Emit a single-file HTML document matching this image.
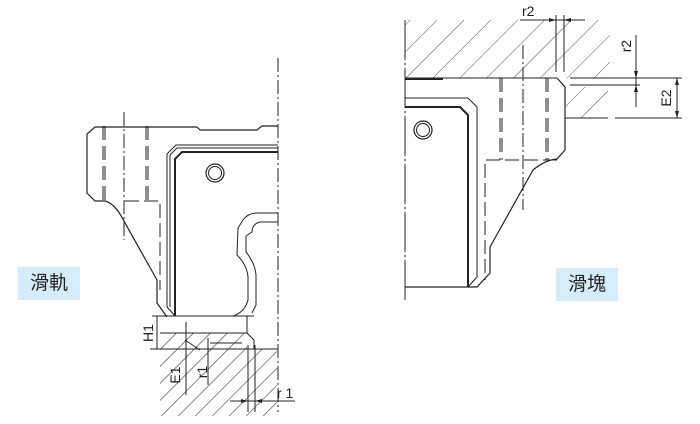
<!DOCTYPE html>
<html><head><meta charset="utf-8"><style>
html,body{margin:0;padding:0;background:#fff;}
.lbl{position:absolute;background:#d6ecfa;font-family:"Liberation Sans","Noto Sans CJK TC",sans-serif;font-size:19px;color:#222;text-align:center;line-height:33px;}
</style></head><body>
<div style="position:relative;width:700px;height:424px;overflow:hidden">
<svg width="700" height="424" viewBox="0 0 700 424" xmlns="http://www.w3.org/2000/svg" style="position:absolute;left:0;top:0" fill="none" stroke="#222" stroke-width="1">
<defs>
<pattern id="h" width="12" height="12" patternUnits="userSpaceOnUse" patternTransform="rotate(45)">
<line x1="0" y1="0" x2="0" y2="12" stroke="#222" stroke-width="1.1"/>
</pattern>
<pattern id="h2" width="19" height="19" patternUnits="userSpaceOnUse" patternTransform="rotate(45)">
<line x1="0" y1="0" x2="0" y2="19" stroke="#444" stroke-width="0.9"/>
</pattern>
</defs>
<polygon points="160,333 247,333 247,349 277,349 277,416 160,416" fill="url(#h)" stroke="none"/>
<line x1="278" y1="58" x2="278" y2="412" stroke-dasharray="14,3,2,3"/>
<path d="M197,127 L95,127 L87,134 L87,193 L95,201 L105,201 Q113,203 120,214 L157,280 L157,303 L167,317" stroke-width="1.2"/>
<polyline points="197,127 200,130 257,130 262,126 278,126" stroke-width="1.2"/>
<line x1="103" y1="126" x2="103" y2="201" stroke-dasharray="14,6"/>
<line x1="105" y1="126" x2="105" y2="201" stroke-dasharray="14,6"/>
<line x1="146" y1="126" x2="146" y2="201" stroke-dasharray="14,6"/>
<line x1="148" y1="126" x2="148" y2="201" stroke-dasharray="14,6"/>
<line x1="124" y1="112" x2="124" y2="240" stroke-dasharray="14,3,2,3"/>
<polyline points="125,201 160,201 160,290" stroke-dasharray="14,5"/>
<polyline points="278,145 176,145 167,154 167,307 175,316"/>
<polyline points="278,148 177,148 170,155 170,307"/>
<polyline points="278,152 182,152 175,159 175,316" stroke-width="2"/>
<line x1="152" y1="316" x2="254" y2="316"/>
<circle cx="215" cy="173" r="9" stroke-width="1.2"/>
<circle cx="215" cy="173" r="6.5"/>
<path d="M278,213 L257,213 Q248,213 243,220 L238,228 L237,255 Q247,265 248,277 L248,300 Q245,312 233,316"/>
<path d="M278,222 L260,222 Q252,224 252,232 L246,236 L246,252 Q255,263 256,275 L256,305 L252,313"/>
<polyline points="247,316 247,333 254,340 254,349"/>
<line x1="150" y1="349" x2="278" y2="349"/>
<line x1="160" y1="333" x2="247" y2="333"/>
<line x1="157" y1="316" x2="157" y2="349"/>
<text x="153" y="333" transform="rotate(-90 153 333)" fill="#222" stroke="none" font-family="Liberation Sans,sans-serif" font-size="14" text-anchor="middle">H1</text>
<line x1="186" y1="322" x2="186" y2="395"/>
<line x1="185" y1="340" x2="200" y2="350"/>
<text x="180" y="375" transform="rotate(-90 180 375)" fill="#222" stroke="none" font-family="Liberation Sans,sans-serif" font-size="14" text-anchor="middle">E1</text>
<line x1="208" y1="338" x2="208" y2="385"/>
<line x1="210" y1="343" x2="242" y2="343"/>
<text x="207" y="372" transform="rotate(-90 207 372)" fill="#222" stroke="none" font-family="Liberation Sans,sans-serif" font-size="14" text-anchor="middle">r1</text>
<line x1="248" y1="345" x2="248" y2="412"/>
<line x1="255" y1="345" x2="255" y2="412"/>
<line x1="230" y1="401" x2="295" y2="401"/>
<polygon points="248,401 241,399 241,403" fill="#222" stroke="none"/>
<polygon points="255,401 262,399 262,403" fill="#222" stroke="none"/>
<text x="277" y="398" fill="#222" stroke="none" font-family="Liberation Sans,sans-serif" font-size="14">r 1</text>

<polygon points="405,20 610,20 610,78 405,78" fill="url(#h2)" stroke="none"/>
<polygon points="566,87 608,87 608,118 566,118" fill="url(#h2)" stroke="none"/>
<line x1="405" y1="20" x2="405" y2="302" stroke-dasharray="40,3,2,3"/>
<line x1="405" y1="78" x2="557" y2="78"/>
<line x1="570" y1="78" x2="682" y2="78"/>
<line x1="570" y1="85" x2="640" y2="85"/>
<line x1="565" y1="118" x2="608" y2="118"/>
<line x1="615" y1="118" x2="682" y2="118"/>
<line x1="405" y1="79" x2="443" y2="79" stroke-width="2"/>
<path d="M557,78 L565,87 L565,150 L557,159 Q545,160 533,170 L490,247 L490,273 L477,287 L405,287" stroke-width="1.2"/>
<polyline points="405,98 468,98 477,107 477,277 468,287"/>
<polyline points="405,107 460,107 468,115 468,287" stroke-width="2"/>
<circle cx="423" cy="130" r="9" stroke-width="1.2"/>
<circle cx="423" cy="130" r="6.5"/>
<line x1="500" y1="78" x2="500" y2="160" stroke-dasharray="14,6"/>
<line x1="502" y1="78" x2="502" y2="160" stroke-dasharray="14,6"/>
<line x1="546" y1="78" x2="546" y2="160" stroke-dasharray="14,6"/>
<line x1="548" y1="78" x2="548" y2="160" stroke-dasharray="14,6"/>
<line x1="523" y1="45" x2="523" y2="210" stroke-dasharray="14,3,2,3"/>
<polyline points="557,160 485,160 485,280" stroke-dasharray="14,5"/>
<line x1="556" y1="15" x2="556" y2="72"/>
<line x1="564" y1="15" x2="564" y2="72"/>
<line x1="520" y1="20" x2="585" y2="20"/>
<polygon points="556,20 549,18 549,22" fill="#222" stroke="none"/>
<polygon points="564,20 571,18 571,22" fill="#222" stroke="none"/>
<text x="522" y="16" fill="#222" stroke="none" font-family="Liberation Sans,sans-serif" font-size="14">r2</text>
<line x1="636" y1="35" x2="636" y2="107"/>
<polygon points="636,78 634,71 638,71" fill="#222" stroke="none"/>
<polygon points="636,85 634,92 638,92" fill="#222" stroke="none"/>
<text x="631" y="46" transform="rotate(-90 631 46)" fill="#222" stroke="none" font-family="Liberation Sans,sans-serif" font-size="14" text-anchor="middle">r2</text>
<line x1="677" y1="78" x2="677" y2="118"/>
<polygon points="677,78 675,85 679,85" fill="#222" stroke="none"/>
<polygon points="677,118 675,111 679,111" fill="#222" stroke="none"/>
<text x="671" y="98" transform="rotate(-90 671 98)" fill="#222" stroke="none" font-family="Liberation Sans,sans-serif" font-size="14" text-anchor="middle">E2</text>
</svg>
<div class="lbl" style="left:18px;top:267px;width:62px;height:33px">滑軌</div>
<div class="lbl" style="left:556px;top:268px;width:62px;height:33px">滑塊</div>
</div>
</body></html>
